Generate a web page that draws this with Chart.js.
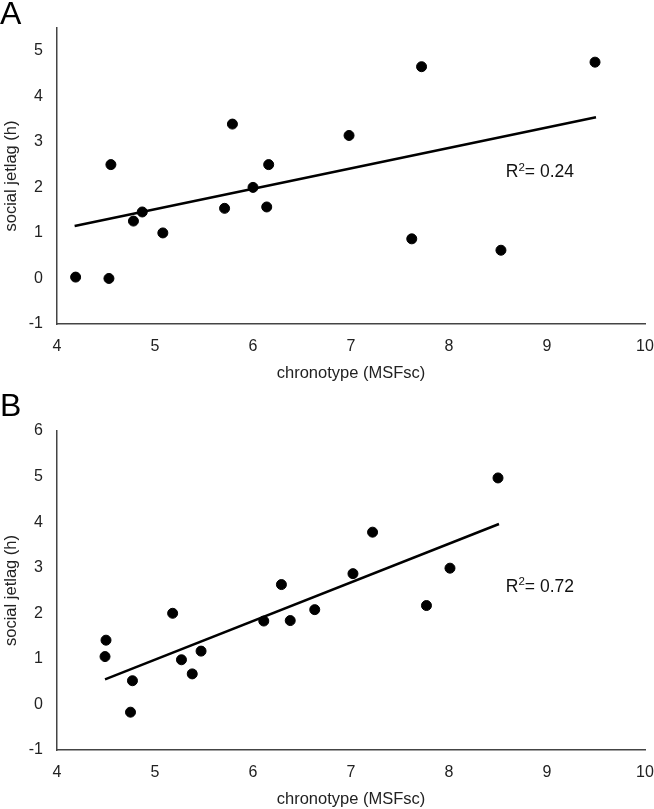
<!DOCTYPE html>
<html>
<head>
<meta charset="utf-8">
<script src="https://cdn.jsdelivr.net/npm/chart.js@4"></script>
<style>
  body { margin: 0; background: #fff; }
  .panel { position: absolute; left: 0; width: 654px; }
  .tag { position: absolute; left: 0; font: 32px "Liberation Sans", Arial, sans-serif; color: #000; }
</style>
</head>
<body>
<div class="panel" style="top:0;height:400px"><canvas id="chartA" width="654" height="400"></canvas></div>
<div class="panel" style="top:400px;height:409px"><canvas id="chartB" width="654" height="409"></canvas></div>
<div class="tag" style="top:-5px">A</div>
<div class="tag" style="top:387px">B</div>
<script>
// panel A: chronotype vs social jetlag
const chronotypeA = [4.19, 4.53, 4.55, 4.78, 4.87, 5.08, 5.71, 5.79, 6.00, 6.14, 6.16, 6.98, 7.62, 7.72, 8.53, 9.49];
const jetlagA = [0.03, 0.00, 2.50, 1.26, 1.46, 1.00, 1.54, 3.39, 2.00, 1.57, 2.50, 3.14, 0.87, 4.65, 0.62, 4.75];
const trendXA = [4.18, 9.50];
const trendYA = [1.15, 3.54];
const r2A = '0.24';

// panel B
const chronotypeB = [4.49, 4.50, 4.75, 4.77, 5.18, 5.27, 5.38, 5.47, 6.11, 6.29, 6.38, 6.63, 7.02, 7.22, 7.77, 8.01, 8.50];
const jetlagB = [1.05, 1.41, -0.17, 0.52, 2.00, 0.98, 0.67, 1.17, 1.83, 2.63, 1.84, 2.08, 2.87, 3.78, 2.17, 2.99, 4.97];
const trendXB = [4.49, 8.51];
const trendYB = [0.55, 3.96];
const r2B = '0.72';

const FONT = '"Liberation Sans", Arial, sans-serif';

const r2Label = {
    id: 'r2Label',
    afterDatasetsDraw(chart, args, opts) {
        const ctx = chart.ctx;
        const x = chart.scales.x.getPixelForValue(opts.x);
        const y = chart.scales.y.getPixelForValue(opts.y);
        ctx.save();
        ctx.fillStyle = '#111';
        ctx.textBaseline = 'middle';
        ctx.font = '17.5px ' + FONT;
        ctx.fillText('R', x, y);
        let w = ctx.measureText('R').width;
        ctx.font = '11.5px ' + FONT;
        ctx.fillText('2', x + w, y - 5);
        w += ctx.measureText('2').width;
        ctx.font = '17.5px ' + FONT;
        ctx.fillText('= ' + opts.text, x + w, y);
        ctx.restore();
    }
};

function makeChart(id, xs, ys, tx, ty, yMax, pad, xHeight, titlePad, r2) {
    const ctx = document.getElementById(id).getContext('2d');
    new Chart(ctx, {
        type: 'scatter',
        data: {
            datasets: [{
                data: xs.map((x, i) => ({ x: x, y: ys[i] })),
                backgroundColor: '#000',
                borderColor: '#000',
                pointRadius: 5,
                pointHoverRadius: 5
            }, {
                type: 'line',
                data: tx.map((x, i) => ({ x: x, y: ty[i] })),
                borderColor: '#000',
                borderWidth: 2.5,
                pointRadius: 0,
                fill: false
            }]
        },
        options: {
            responsive: false,
            animation: false,
            devicePixelRatio: 1,
            layout: { padding: { top: pad, right: 0, left: 0, bottom: 0 } },
            plugins: {
                legend: { display: false },
                tooltip: { enabled: false },
                r2Label: { x: 8.58, y: r2.y, text: r2.text }
            },
            scales: {
                x: {
                    type: 'linear',
                    min: 4, max: 10,
                    grid: { display: false, drawTicks: false },
                    border: { display: true, color: '#444', width: 1.5 },
                    ticks: { stepSize: 1, padding: 13, color: '#222', font: { family: FONT, size: 16 } },
                    title: { display: true, text: 'chronotype (MSFsc)', color: '#222', padding: { top: 0, bottom: titlePad }, font: { family: FONT, size: 16.5 } },
                    afterFit: s => {
                        s.height = xHeight;
                        s.paddingLeft = 0;
                        s.paddingRight = 9;
                    }
                },
                y: {
                    min: -1, max: yMax,
                    grid: { display: false, drawTicks: false },
                    border: { display: true, color: '#444', width: 1.5 },
                    ticks: { stepSize: 1, includeBounds: false, padding: 14, color: '#222', font: { family: FONT, size: 16 } },
                    title: { display: true, text: 'social jetlag (h)', color: '#222', padding: { top: 2, bottom: 0 }, font: { family: FONT, size: 16.5 } },
                    afterFit: s => { s.width = 57; }
                }
            }
        },
        plugins: [r2Label]
    });
}

makeChart('chartA', chronotypeA, jetlagA, trendXA, trendYA, 5.5, 28, 76, 17, { y: 2.33, text: r2A });
makeChart('chartB', chronotypeB, jetlagB, trendXB, trendYB, 6, 31, 59, 0, { y: 2.58, text: r2B });
</script>
</body>
</html>
